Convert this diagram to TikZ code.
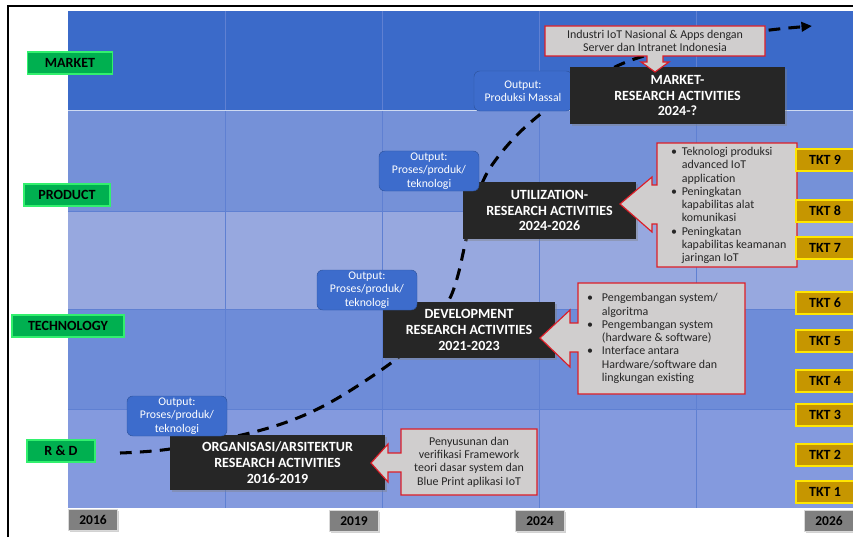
\documentclass[tikz,border=0pt]{standalone}
\usepackage{fontspec}
\setmainfont{Carlito}
\usepackage{xcolor}
\usetikzlibrary{arrows.meta,shadows}
\definecolor{marketrow}{RGB}{59,106,201}
\definecolor{productrow}{RGB}{117,145,216}
\definecolor{midrow}{RGB}{151,168,223}
\definecolor{techrow}{RGB}{110,140,216}
\definecolor{rdrow}{RGB}{132,154,222}
\definecolor{gridrim}{RGB}{95,128,210}
\definecolor{levelfill}{RGB}{0,176,80}
\definecolor{levelrim}{RGB}{50,240,110}
\definecolor{tktfill}{RGB}{198,150,0}
\definecolor{tktrim}{RGB}{255,230,0}
\definecolor{yearfill}{RGB}{128,128,128}
\definecolor{actfill}{RGB}{38,38,38}
\definecolor{outfill}{RGB}{61,108,204}
\definecolor{outrim}{RGB}{47,85,160}
\definecolor{callfill}{RGB}{208,206,206}
\definecolor{callrim}{RGB}{220,30,40}
\newcommand{\bul}[1]{\makebox[#1][l]{\textbullet}}
\newcommand{\nobul}[1]{\hspace*{#1}}
\tikzset{
  levelbox/.style={draw=levelrim, line width=1.6pt, fill=levelfill, inner sep=0pt, minimum height=0.67cm, font=\fontsize{12}{14}\selectfont\bfseries},
  tktbox/.style={draw=tktrim, line width=1.6pt, fill=tktfill, inner sep=0pt, minimum width=1.74cm, minimum height=0.66cm, font=\fontsize{12}{14}\selectfont\bfseries},
  yearbox/.style={draw=gray!30, line width=1pt, fill=yearfill, inner sep=0pt, minimum width=1.47cm, minimum height=0.63cm, font=\fontsize{11.5}{13}\selectfont\bfseries, drop shadow={opacity=0.35, shadow xshift=1.2pt, shadow yshift=-1.2pt}},
  actbox/.style={fill=actfill, text=white, align=center, inner sep=0pt, font=\fontsize{12}{13.4}\selectfont\bfseries, drop shadow={opacity=0.4, shadow xshift=1.5pt, shadow yshift=-1.5pt}},
  outbox/.style={draw=outrim, fill=outfill, rounded corners=5pt, text=white, align=center, inner sep=0pt, minimum width=3cm, minimum height=1.2cm, font=\fontsize{10}{11.5}\selectfont},
  callshape/.style={draw=callrim, line width=1pt, fill=callfill},
  calltext/.style={text=black!85, inner sep=0pt, font=\fontsize{10.2}{11.3}\selectfont},
  trendline/.style={line width=2.6pt, dash pattern=on 10pt off 7pt, -{Triangle[length=9pt,width=8pt]}},
  gridline/.style={gridrim, line width=0.6pt}
}

\begin{document}
\begin{tikzpicture}[x=0.03cm, y=-0.03cm]
  \useasboundingbox (0,0) rectangle (853,537);
  \fill[white] (0,0) rectangle (853,537);
  \fill[marketrow] (68,11) rectangle (853,110);
  \fill[productrow] (68,110) rectangle (853,211);
  \fill[midrow] (68,211) rectangle (853,309);
  \fill[techrow] (68,309) rectangle (853,409);
  \fill[rdrow] (68,409) rectangle (853,508);
  \foreach \gx in {225,382,539,696}
    \draw[gridline] (\gx,11) -- (\gx,508);
  \foreach \gy in {211,309,409}
    \draw[gridline] (68,\gy) -- (853,\gy);
  \draw[white!75!marketrow, line width=0.8pt] (68,110) -- (853,110);
  \draw[line width=2.5pt] (8,537) -- (8,6) -- (853,6);

  \coordinate (trendstart) at (120,453);
  \coordinate (trendend) at (812,26);
  \draw[trendline] plot[smooth, tension=0.55] coordinates {(trendstart) (170,449) (250,433) (300,417) (343,395) (395,360) (430,328) (449,300) (458,275) (466,240) (476,200) (490,168) (520,132) (562,98) (617,66) (662,51) (720,38) (770,30) (trendend)};

  \node[levelbox, minimum width=2.55cm] (market) at (70,63) {MARKET};
  \node[levelbox, minimum width=2.58cm] (product) at (67,195) {PRODUCT};
  \node[levelbox, minimum width=3.36cm] (technology) at (68,326) {TECHNOLOGY};
  \node[levelbox, minimum width=2.04cm] (rnd) at (61,451) {R \& D};

  \node[yearbox] (y2016) at (93,520) {2016};
  \node[yearbox] (y2019) at (354,521) {2019};
  \node[yearbox] (y2024) at (540,521) {2024};
  \node[yearbox] (y2026) at (829,521) {2026};

  \node[outbox, minimum width=2.94cm] (outmarket) at (523,91) {Output:\\Produksi Massal};

  \node[actbox, minimum width=6.45cm, minimum height=1.65cm] (actorg) at (277.5,462.5) {ORGANISASI/ARSITEKTUR\\RESEARCH ACTIVITIES\\2016-2019};
  \node[actbox, minimum width=5.16cm, minimum height=1.68cm] (actdev) at (469,330) {DEVELOPMENT\\RESEARCH ACTIVITIES\\2021-2023};
  \node[actbox, minimum width=5.19cm, minimum height=1.71cm] (actutil) at (549.5,210.5) {UTILIZATION-\\RESEARCH ACTIVITIES\\2024-2026};
  \node[actbox, minimum width=6.45cm, minimum height=1.71cm] (actmarket) at (677.5,95.5) {MARKET-\\RESEARCH ACTIVITIES\\2024-?};

  \node[outbox] (outorg) at (177,416) {Output:\\Proses/produk/\\teknologi};
  \node[outbox] (outdev) at (367,290) {Output:\\Proses/produk/\\teknologi};
  \node[outbox] (oututil) at (429,171) {Output:\\Proses/produk/\\teknologi};

  \path[callshape] (401,429) -- (537,429) -- (537,495) -- (401,495) -- (401,472) -- (388,472) -- (388,482) -- (371,463) -- (388,444) -- (388,453) -- (401,453) -- cycle;
  \node[calltext, align=center] (callorg) at (469,462) {Penyusunan dan\\verifikasi Framework\\teori dasar system dan\\Blue Print aplikasi IoT};

  \path[callshape] (578,283) -- (745,283) -- (745,394) -- (578,394) -- (578,352) -- (570,352) -- (570,367) -- (540,338) -- (570,310) -- (570,323) -- (578,323) -- cycle;
  \node[calltext, align=left, anchor=west] (calldev) at (587,338.5) {\bul{12.5pt}Pengembangan system/\\\nobul{12.5pt}algoritma\\\bul{12.5pt}Pengembangan system\\\nobul{12.5pt}(hardware \& software)\\\bul{12.5pt}Interface antara\\\nobul{12.5pt}Hardware/software dan\\\nobul{12.5pt}lingkungan existing};

  \path[callshape] (657,143) -- (797,143) -- (797,267) -- (657,267) -- (657,224) -- (652,224) -- (652,232) -- (620,204) -- (652,177) -- (652,185) -- (657,185) -- cycle;
  \node[calltext, align=left, anchor=west] (callutil) at (671,205.5) {\bul{9pt}Teknologi produksi\\\nobul{9pt}advanced IoT\\\nobul{9pt}application\\\bul{9pt}Peningkatan\\\nobul{9pt}kapabilitas alat\\\nobul{9pt}komunikasi\\\bul{9pt}Peningkatan\\\nobul{9pt}kapabilitas keamanan\\\nobul{9pt}jaringan IoT};

  \path[callshape] (545,26) -- (765,26) -- (765,56) -- (663,56) -- (663,62) -- (669,62) -- (655,72) -- (641,62) -- (647,62) -- (647,56) -- (545,56) -- cycle;
  \node[calltext, align=center] (callmarket) at (655,41) {Industri IoT Nasional \& Apps dengan\\Server dan Intranet Indonesia};

  \foreach \lvl/\ty in {9/160,8/211,7/248,6/303,5/341,4/381,3/415,2/455,1/492}
    \node[tktbox] (tkt\lvl) at (825,\ty) {TKT \lvl};
\end{tikzpicture}
\end{document}
